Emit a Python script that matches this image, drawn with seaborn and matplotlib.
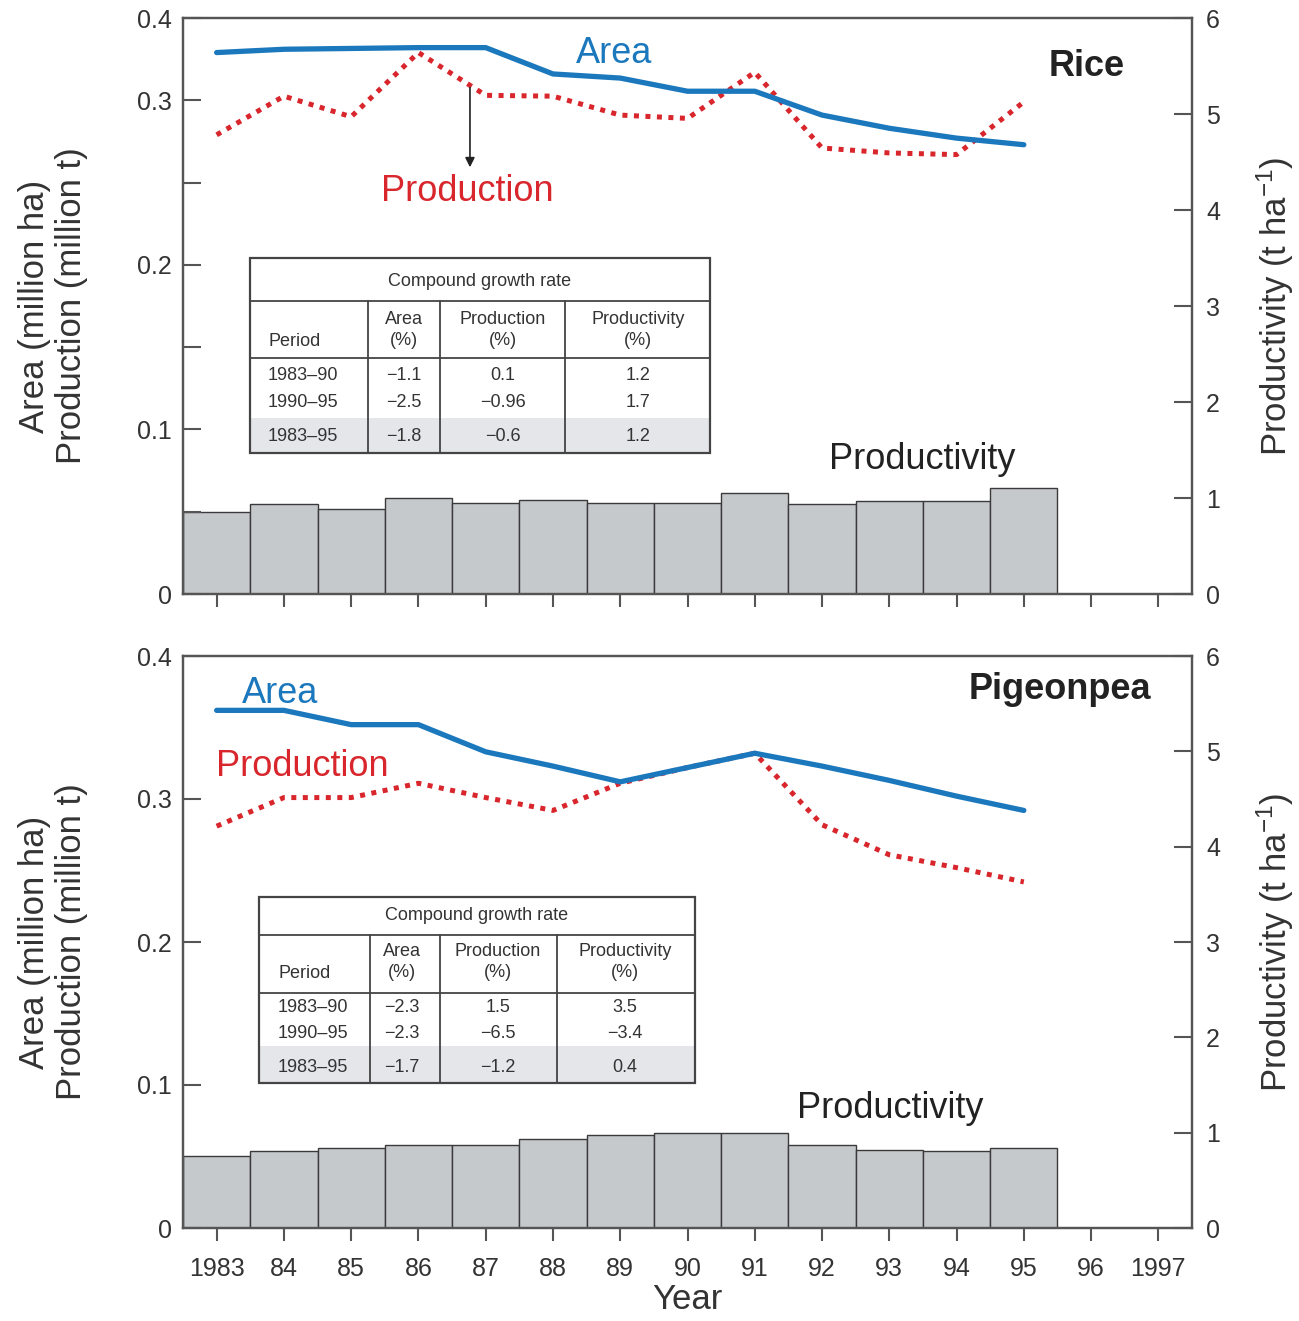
import numpy as np
import pandas as pd
import matplotlib
matplotlib.use('Agg')
import matplotlib.pyplot as plt
from matplotlib.patches import Rectangle
from matplotlib.lines import Line2D
import seaborn as sns

# ---- data ----
years = list(range(1983, 1996))

rice_area = [0.358, 0.362, 0.363, 0.364, 0.364, 0.332, 0.327, 0.311, 0.311, 0.291, 0.283, 0.277, 0.273]
rice_production = [0.279, 0.305, 0.290, 0.358, 0.306, 0.305, 0.291, 0.289, 0.334, 0.271, 0.268, 0.267, 0.299]
rice_productivity = [0.85, 0.94, 0.89, 1.00, 0.95, 0.98, 0.95, 0.95, 1.05, 0.94, 0.97, 0.97, 1.10]

pp_area = [0.362, 0.362, 0.352, 0.352, 0.333, 0.323, 0.312, 0.322, 0.332, 0.323, 0.313, 0.302, 0.292]
pp_production = [0.281, 0.301, 0.301, 0.311, 0.301, 0.292, 0.311, 0.322, 0.332, 0.282, 0.261, 0.252, 0.242]
pp_productivity = [0.76, 0.81, 0.84, 0.87, 0.87, 0.93, 0.98, 1.00, 1.00, 0.87, 0.82, 0.81, 0.84]

table_cols = ['Area\n(%)', 'Production\n(%)', 'Productivity\n(%)']
periods = ['1983\u201390', '1990\u201395', '1983\u201395']
rice_table = [['\u22121.1', '0.1', '1.2'],
              ['\u22122.5', '\u22120.96', '1.7'],
              ['\u22121.8', '\u22120.6', '1.2']]
pp_table = [['\u22122.3', '1.5', '3.5'],
            ['\u22122.3', '\u22126.5', '\u22123.4'],
            ['\u22121.7', '\u22121.2', '0.4']]

x_ticks = list(range(1983, 1998))
x_ticklabels = ['1983'] + [str(y)[2:] for y in range(1984, 1997)] + ['1997']

# ---- styling ----
sns.set_theme(style='ticks')
plt.rcParams['font.family'] = ['Liberation Sans', 'DejaVu Sans']
plt.rcParams['mathtext.default'] = 'regular'

W, H = 1299, 1321
BLUE = '#1b78bd'
RED = '#d8262c'
BAR = '#c6c9cc'
SPINE = '#555555'
TXT = '#333333'

fig = plt.figure(figsize=(W / 100, H / 100), dpi=100)


def fx(x):
    return x / W


def fy(y):
    return 1 - y / H


# the left axis of the rice panel is squeezed above 0.3 in the original
def fwd(y):
    y = np.asarray(y, dtype=float)
    return np.where(y <= 0.3, y, 0.3 + (y - 0.3) / 2)


def inv(y):
    y = np.asarray(y, dtype=float)
    return np.where(y <= 0.3, y, 0.3 + (y - 0.3) * 2)


def draw_table(box, cols, col_centers, period_x, title_y, head_y, row_ys, values):
    left, right, top, h1, h2, h3, bottom = box
    # shaded last row
    fig.add_artist(Rectangle((fx(left), fy(bottom)), fx(right) - fx(left), fy(h3) - fy(bottom),
                             transform=fig.transFigure, facecolor='#e4e6ea', edgecolor='none', zorder=3))
    fig.add_artist(Rectangle((fx(left), fy(h3)), fx(right) - fx(left), fy(top) - fy(h3),
                             transform=fig.transFigure, facecolor='white', edgecolor='none', zorder=3))
    fig.add_artist(Rectangle((fx(left), fy(bottom)), fx(right) - fx(left), fy(top) - fy(bottom),
                             transform=fig.transFigure, facecolor='none', edgecolor='#444444',
                             lw=1.6, zorder=5))
    for yy in (h1, h2):
        fig.add_artist(Line2D([fx(left), fx(right)], [fy(yy), fy(yy)], transform=fig.transFigure,
                              color='#444444', lw=1.3, zorder=5))
    for xx in cols:
        fig.add_artist(Line2D([fx(xx), fx(xx)], [fy(h1), fy(bottom)], transform=fig.transFigure,
                              color='#444444', lw=1.3, zorder=5))
    kw = dict(fontsize=13, color=TXT, zorder=6)
    fig.text(fx((left + right) / 2), fy(title_y), 'Compound growth rate', ha='center', va='center', **kw)
    fig.text(fx(period_x), fy(head_y + 12), 'Period', ha='left', va='center', **kw)
    for cx, name in zip(col_centers, table_cols):
        fig.text(fx(cx), fy(head_y), name, ha='center', va='center', linespacing=1.25, **kw)
    for ry, per, vals in zip(row_ys, periods, values):
        fig.text(fx(period_x), fy(ry), per, ha='left', va='center', **kw)
        for cx, v in zip(col_centers, vals):
            fig.text(fx(cx), fy(ry), v, ha='center', va='center', **kw)


def panel(rect, area, production, productivity, crop, top_panel, labels_pos):
    ax = fig.add_axes(rect)
    axr = ax.twinx()
    ax.set_zorder(axr.get_zorder() + 1)
    ax.patch.set_visible(False)

    axr.bar(years, productivity, width=1.0, color=BAR, edgecolor='#3a3a3a', linewidth=1.0)
    axr.set_ylim(0, 6)
    axr.set_yticks(range(0, 7))

    sns.lineplot(x=years, y=production, ax=ax, color=RED, lw=3.6,
                 linestyle=(0, (1, 1.3)), dash_capstyle='butt')
    sns.lineplot(x=years, y=area, ax=ax, color=BLUE, lw=3.8, solid_joinstyle='round')

    ax.set_xlim(1982.5, 1997.5)
    if top_panel:
        ax.set_yscale('function', functions=(fwd, inv))
        ax.set_ylim(0, 0.4)
        ax.set_yticks([0, 0.1, 0.2, 0.3, 0.4])
        ax.set_yticks([0.05, 0.15, 0.25], minor=True)
    else:
        ax.set_ylim(0, 0.4)
        ax.set_yticks([0, 0.1, 0.2, 0.3, 0.4])
    ax.set_yticklabels(['0', '0.1', '0.2', '0.3', '0.4'])
    ax.set_xticks(x_ticks)
    if top_panel:
        ax.set_xticklabels([])
    else:
        ax.set_xticklabels(x_ticklabels)
        ax.set_xlabel('Year', fontsize=25, color=TXT, labelpad=1)

    ax.tick_params(axis='y', which='both', direction='in', length=13, width=1.5,
                   color=SPINE, labelsize=18, labelcolor=TXT, pad=8)
    ax.tick_params(axis='x', direction='out', length=9, width=1.5, color=SPINE,
                   labelsize=18, labelcolor=TXT, pad=12)
    axr.tick_params(axis='y', direction='in', length=13, width=1.5, color=SPINE,
                    labelsize=18, labelcolor=TXT, pad=10)
    for a in (ax, axr):
        for s in a.spines.values():
            s.set_color(SPINE)
            s.set_linewidth(1.6)
            s.set_visible(True)

    ax.set_ylabel('Area (million ha)\nProduction (million t)', fontsize=25, color=TXT, linespacing=1.15)
    ax.yaxis.set_label_coords(-0.094, 0.5)
    axr.set_ylabel('Productivity (t ha$^{-1}$)', fontsize=25, color=TXT)
    axr.yaxis.set_label_coords(1.062, 0.5)

    (ax_area, ax_prod, ax_crop, ax_pty) = labels_pos
    ax.text(*ax_area, 'Area', transform=ax.transAxes, fontsize=26, color=BLUE, ha='center', va='center')
    ax.text(*ax_prod, 'Production', transform=ax.transAxes, fontsize=26, color=RED, ha='center', va='center')
    ax.text(*ax_crop, crop, transform=ax.transAxes, fontsize=26, fontweight='bold', color='#222222',
            ha='center', va='center')
    ax.text(*ax_pty, 'Productivity', transform=ax.transAxes, fontsize=26, color='#222222',
            ha='center', va='center')
    return ax, axr


ax1, ax1r = panel([fx(183), fy(594), fx(1192) - fx(183), fy(18) - fy(594)],
                  rice_area, rice_production, rice_productivity, 'Rice', True,
                  ((0.427, 0.939), (0.282, 0.698), (0.896, 0.915), (0.733, 0.233)))
ax1.annotate('', xy=(0.2844, 0.736), xytext=(0.2844, 0.884), xycoords='axes fraction',
             arrowprops=dict(arrowstyle='-|>', color='#222222', lw=1.2, mutation_scale=14))

ax2, ax2r = panel([fx(183), fy(1228), fx(1192) - fx(183), fy(656) - fy(1228)],
                  pp_area, pp_production, pp_productivity, 'Pigeonpea', False,
                  ((0.096, 0.935), (0.118, 0.806), (0.869, 0.942), (0.701, 0.209)))

draw_table((250, 710, 258, 301, 358, 418, 453), (368, 440, 565), (404, 503, 638), 268,
           282, 330, (376, 402, 437), rice_table)
draw_table((259, 695, 897, 935, 993, 1046, 1083), (370, 440, 557), (402, 498, 625), 278,
           916, 962, (1008, 1033, 1067), pp_table)

fig.savefig('out.png', dpi=100)
